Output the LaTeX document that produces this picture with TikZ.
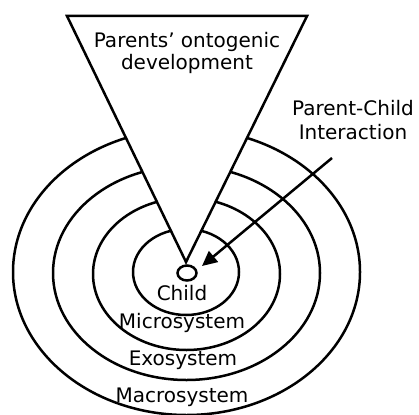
\documentclass[tikz,border=0pt]{standalone}
\usepackage{fontspec}
\setmainfont{DejaVu Sans}
\usepackage{tikz}
\usetikzlibrary{arrows.meta,positioning,shapes.geometric}

\tikzset{
  ring/.style={draw,line width=2.5pt},
  lbl/.style={inner sep=0pt,align=center}
}

\begin{document}
\begin{tikzpicture}[x=1pt,y=-1pt,font=\fontsize{20}{22}\selectfont]
  \useasboundingbox (0,0) rectangle (419,414);
  \clip (0,0) rectangle (419,414);
  % system rings
  \draw[ring] (186.5,272) ellipse [x radius=173.5,y radius=143];
  \draw[ring] (186.5,273) ellipse [x radius=133.5,y radius=107];
  \draw[ring] (186.5,274) ellipse [x radius=93.5,y radius=76];
  \draw[ring] (186,272) ellipse [x radius=53,y radius=43];
  % parents' cone
  \draw[ring,fill=white,line join=miter] (67,16) -- (307,16) -- (186,262) -- cycle;
  \node[lbl] (parents) at (187,53) {Parents’ ontogenic\\development};
  % child
  \node[ring,ellipse,minimum width=19pt,minimum height=15pt,inner sep=0pt] (child) at (187,273) {};
  \node[lbl] (childtxt) at (182,293) {Child};
  \node[lbl] (micro) at (182,323) {Microsystem};
  \node[lbl] (exo) at (183,360) {Exosystem};
  \node[lbl] (macro) at (182,397) {Macrosystem};
  % interaction
  \node[lbl] (pci) at (353,120) {Parent-Child\\[2pt]Interaction};
  \coordinate (tail) at (332,158);
  \coordinate (tip) at (202,266);
  \draw[line width=2.5pt,-{Triangle[length=15pt,width=14pt]}] (tail) -- (tip);
\end{tikzpicture}
\end{document}
